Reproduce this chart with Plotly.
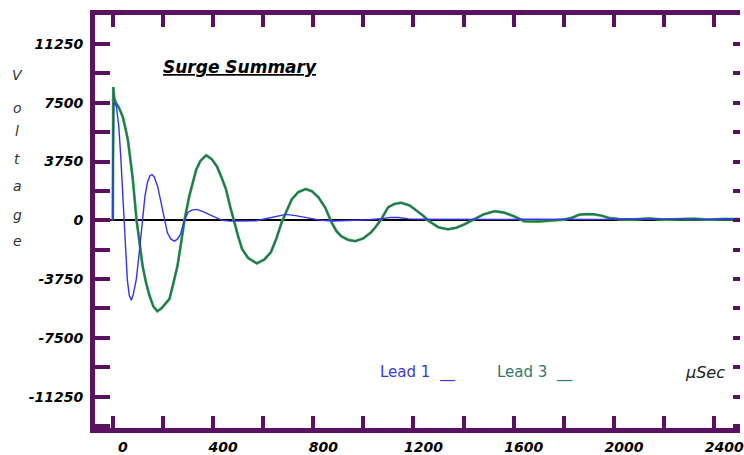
import plotly.graph_objects as go

# ---- data ----
t_lead1 = [0, 4, 14, 24, 32, 40, 48, 58, 66, 74, 82, 94, 106, 118, 128, 138, 148, 157, 166, 179,
           192, 206, 218, 232, 246, 258, 270, 286, 300, 315, 335, 360, 385, 410, 436, 470, 520, 571,
           610, 650, 690, 730, 770, 833, 880, 950, 1020, 1080, 1110, 1140, 1180, 1250, 1330, 1400,
           1480, 1560, 1640, 1720, 1800, 1880, 1960, 2040, 2120, 2200, 2280, 2360, 2440, 2510]
v_lead1 = [0, 7500, 7300, 6000, 4000, 1500, -1500, -3800, -4800, -5100, -4700, -3750, -2000, 0,
           1500, 2400, 2850, 2920, 2750, 2160, 1100, 0, -800, -1200, -1330, -1200, -900, 0, 500,
           650, 700, 550, 380, 200, 0, -50, -60, -30, 100, 250, 380, 300, 200, 0, -40, -20, 40,
           120, 190, 180, 90, 70, 60, 50, 80, 60, 70, 60, 90, 70, 60, 80, 70, 60, 70, 60, 80, 70]

t_lead3 = [0, 2, 6, 12, 24, 40, 50, 60, 70, 80, 95, 107, 119, 133, 147, 162, 178, 195, 212, 226,
           242, 258, 272, 286, 305, 320, 333, 350, 373, 395, 416, 435, 452, 468, 484, 500, 516, 540,
           575, 605, 631, 652, 674, 695, 714, 740, 770, 795, 821, 848, 873, 893, 912, 940, 968,
           1000, 1031, 1050, 1071, 1085, 1099, 1125, 1150, 1185, 1218, 1240, 1257, 1300, 1337,
           1370, 1404, 1436, 1480, 1523, 1560, 1602, 1642, 1700, 1760, 1800, 1830, 1860, 1890,
           1920, 1950, 1980, 2020, 2080, 2140, 2200, 2260, 2320, 2380, 2440, 2510]
v_lead3 = [0, 8500, 7800, 7500, 7200, 6600, 5900, 5150, 3900, 2600, 0, -1500, -2920, -4000,
           -4830, -5500, -5800, -5600, -5300, -5020, -4000, -2920, -1500, 0, 1525, 2500, 3240,
           3800, 4150, 3900, 3430, 2700, 1970, 900, -130, -1000, -1840, -2400, -2750, -2500,
           -2030, -1200, -130, 700, 1335, 1800, 2000, 1850, 1460, 800, -130, -700, -1020, -1250,
           -1330, -1150, -760, -400, 60, 450, 830, 1050, 1120, 950, 570, 280, 0, -450, -570,
           -480, -250, 0, 380, 580, 500, 250, -60, -80, -20, 50, 150, 350, 400, 380, 300, 150,
           80, 60, 120, 50, 80, 100, 40, 90, 80]

x_ticks = [0, 400, 800, 1200, 1600, 2000, 2400]
y_ticks = [-11250, -7500, -3750, 0, 3750, 7500, 11250]
y_title_letters = list("Voltage")

PURPLE = "#5a1260"
W, H = 744, 455
L, R, T, B = 95, 0, 15, 25

def px(x):
    return (x - L) / (W - L - R)

def py(y):
    return (H - B - y) / (H - T - B)

fig = go.Figure()
fig.add_trace(go.Scatter(x=t_lead3, y=v_lead3, mode="lines",
                         line=dict(color="#46d646", width=2.8), showlegend=False, hoverinfo="skip"))
fig.add_trace(go.Scatter(x=t_lead3, y=v_lead3, mode="lines", name="Lead 3",
                         line=dict(color="#2b6f62", width=2), showlegend=False))
fig.add_trace(go.Scatter(x=t_lead1, y=v_lead1, mode="lines", name="Lead 1",
                         line=dict(color="#3434ec", width=1.4), showlegend=False))
fig.add_trace(go.Scatter(x=[None], y=[None], yaxis="y2", showlegend=False, hoverinfo="skip"))

tickfont = dict(family="DejaVu Sans", size=14, color="black", weight="bold", style="italic")

fig.update_layout(
    width=W, height=H,
    margin=dict(l=L, r=R, t=T, b=B, pad=0),
    paper_bgcolor="white", plot_bgcolor="white",
    xaxis=dict(range=[-71, 2503], tickvals=x_ticks, ticktext=[str(v) for v in x_ticks],
               ticks="inside", ticklen=12, tickwidth=4, tickcolor=PURPLE,
               minor=dict(dtick=200, tick0=0, ticks="inside", ticklen=12, tickwidth=4, tickcolor=PURPLE),
               showline=True, linecolor=PURPLE, linewidth=5, mirror="ticks",
               showgrid=False, zeroline=False, tickfont=tickfont, ticklabelshift=10,
               ticklabelstandoff=2, ticklabeloverflow="allow"),
    yaxis=dict(range=[-13250, 13100], tickvals=y_ticks, ticktext=[str(v) for v in y_ticks],
               ticks="inside", ticklen=15, tickwidth=4, tickcolor=PURPLE,
               minor=dict(dtick=1875, tick0=0, ticks="inside", ticklen=15, tickwidth=4, tickcolor=PURPLE),
               showline=True, linecolor=PURPLE, linewidth=5,
               showgrid=False, zeroline=True, zerolinecolor="black", zerolinewidth=2,
               tickfont=tickfont, ticklabelstandoff=4),
    yaxis2=dict(overlaying="y", side="right", matches="y", range=[-13250, 13100],
                tickvals=y_ticks, ticks="inside", ticklen=7, tickwidth=4, tickcolor=PURPLE,
                minor=dict(dtick=1875, tick0=0, ticks="inside", ticklen=7, tickwidth=4, tickcolor=PURPLE),
                showticklabels=False, showline=False, showgrid=False, zeroline=False),
)

ann = []
ann.append(dict(x=px(161), y=py(67), xref="paper", yref="paper", xanchor="left", yanchor="middle",
                text="<b><i><u>Surge Summary</u></i></b>", showarrow=False,
                font=dict(family="DejaVu Sans", size=17, color="black")))
letter_y = [75, 108, 132, 160, 187, 216, 242]
for ch, yy in zip(y_title_letters, letter_y):
    ann.append(dict(x=px(17), y=py(yy), xref="paper", yref="paper", xanchor="center", yanchor="middle",
                    text="<i>%s</i>" % ch, showarrow=False,
                    font=dict(family="DejaVu Sans", size=14, color="#333333")))
ann.append(dict(x=px(380), y=py(374), xref="paper", yref="paper", xanchor="left", yanchor="middle",
                text="Lead 1  __", showarrow=False,
                font=dict(family="DejaVu Sans", size=15, color="#3a3aea")))
ann.append(dict(x=px(497), y=py(374), xref="paper", yref="paper", xanchor="left", yanchor="middle",
                text="Lead 3  __", showarrow=False,
                font=dict(family="DejaVu Sans", size=15, color="#2b7a6c")))
ann.append(dict(x=px(687), y=py(374), xref="paper", yref="paper", xanchor="left", yanchor="middle",
                text="<i>µSec</i>", showarrow=False,
                font=dict(family="DejaVu Sans", size=16, color="#222222")))
fig.update_layout(annotations=ann)

fig.write_html("out.html")
